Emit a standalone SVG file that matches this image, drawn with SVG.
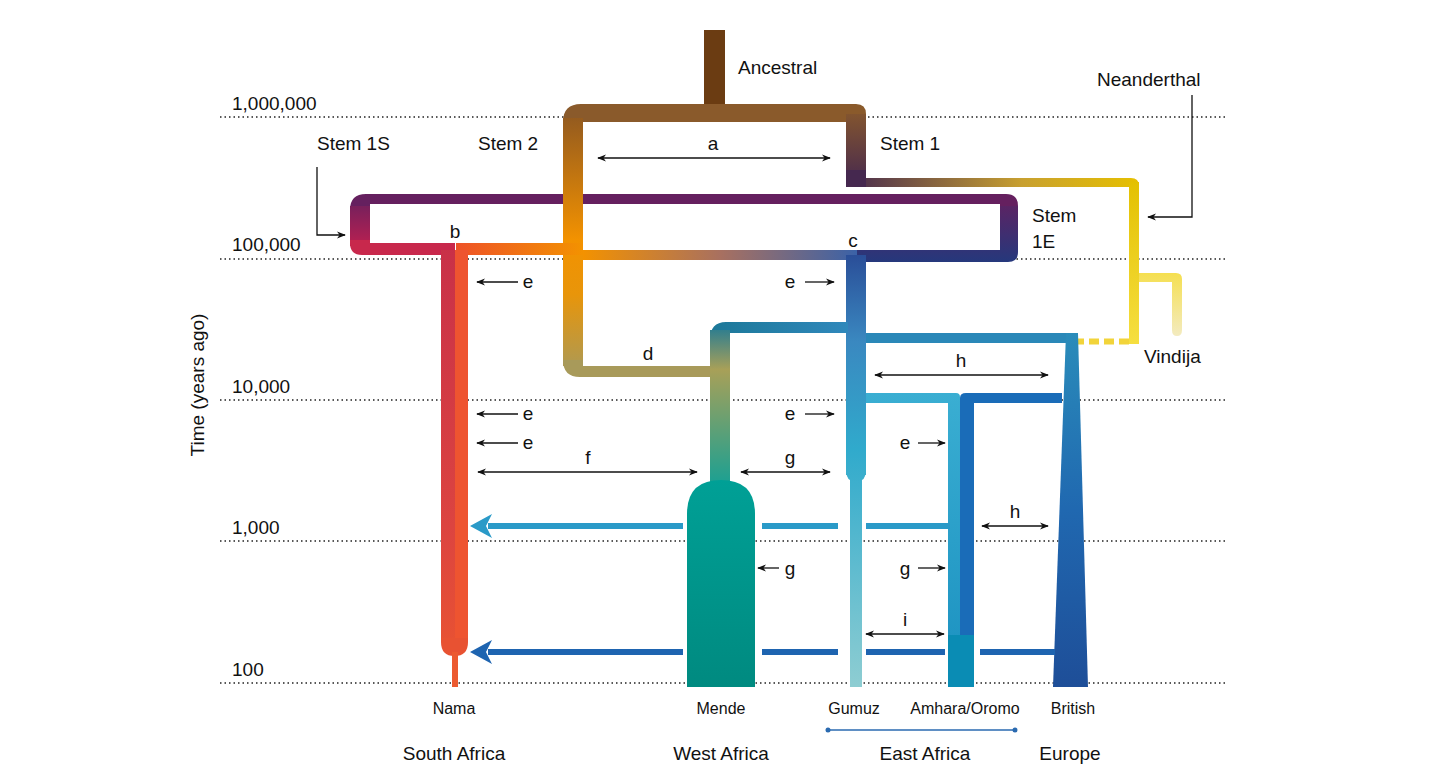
<svg xmlns="http://www.w3.org/2000/svg" width="1456" height="771" viewBox="0 0 1456 771">
<style>
text{font-family:"Liberation Sans",Arial,sans-serif;fill:#111}
.lbl{font-size:19px}
.sm{font-size:16px}
.grid{stroke:#222;stroke-width:1.5;stroke-dasharray:1.5 3}
.arr{stroke:#111;stroke-width:1.3;fill:none}
</style>
<defs>
<marker id="ah" viewBox="0 0 10 10" refX="9" refY="5" markerWidth="9" markerHeight="9" markerUnits="userSpaceOnUse" orient="auto-start-reverse"><path d="M0,1 L10,5 L0,9 L3,5 Z" fill="#111"/></marker>
<linearGradient id="gS2" x1="0" y1="104" x2="0" y2="376" gradientUnits="userSpaceOnUse"><stop offset="0" stop-color="#8a5522"/><stop offset="0.5" stop-color="#f39200"/><stop offset="0.7" stop-color="#e8950a"/><stop offset="1" stop-color="#a89a5a"/></linearGradient>
<linearGradient id="gS1" x1="0" y1="104" x2="0" y2="186" gradientUnits="userSpaceOnUse"><stop offset="0" stop-color="#8a5a2b"/><stop offset="1" stop-color="#45284f"/></linearGradient>
<linearGradient id="gNea" x1="846" y1="0" x2="1139" y2="0" gradientUnits="userSpaceOnUse"><stop offset="0" stop-color="#45284f"/><stop offset="0.6" stop-color="#c8a030"/><stop offset="1" stop-color="#e6c000"/></linearGradient>
<linearGradient id="gNeaV" x1="0" y1="178" x2="0" y2="344" gradientUnits="userSpaceOnUse"><stop offset="0" stop-color="#e3c000"/><stop offset="1" stop-color="#f6df40"/></linearGradient>
<linearGradient id="gVin" x1="0" y1="273" x2="0" y2="336" gradientUnits="userSpaceOnUse"><stop offset="0" stop-color="#f5df50"/><stop offset="1" stop-color="#f3ebc0"/></linearGradient>
<linearGradient id="gL" x1="0" y1="194" x2="0" y2="255" gradientUnits="userSpaceOnUse"><stop offset="0" stop-color="#65205f"/><stop offset="1" stop-color="#c8204e"/></linearGradient>
<linearGradient id="gR" x1="0" y1="194" x2="0" y2="262" gradientUnits="userSpaceOnUse"><stop offset="0" stop-color="#65205f"/><stop offset="1" stop-color="#25387c"/></linearGradient>
<linearGradient id="gE" x1="583" y1="0" x2="858" y2="0" gradientUnits="userSpaceOnUse"><stop offset="0" stop-color="#f39200"/><stop offset="0.5" stop-color="#a87060"/><stop offset="1" stop-color="#3a62a8"/></linearGradient>
<linearGradient id="gB" x1="455" y1="0" x2="583" y2="0" gradientUnits="userSpaceOnUse"><stop offset="0" stop-color="#ee5228"/><stop offset="1" stop-color="#f39200"/></linearGradient>
<linearGradient id="gNL" x1="0" y1="243" x2="0" y2="650" gradientUnits="userSpaceOnUse"><stop offset="0" stop-color="#c83048"/><stop offset="0.7" stop-color="#dc4440"/><stop offset="1" stop-color="#e85232"/></linearGradient>
<linearGradient id="gG" x1="0" y1="255" x2="0" y2="687" gradientUnits="userSpaceOnUse"><stop offset="0" stop-color="#2a4e98"/><stop offset="0.2" stop-color="#3a88c0"/><stop offset="0.45" stop-color="#30aacc"/><stop offset="1" stop-color="#8ecdd2"/></linearGradient>
<linearGradient id="gMH" x1="712" y1="0" x2="850" y2="0" gradientUnits="userSpaceOnUse"><stop offset="0" stop-color="#1c7898"/><stop offset="1" stop-color="#3088bc"/></linearGradient>
<linearGradient id="gMV" x1="0" y1="322" x2="0" y2="480" gradientUnits="userSpaceOnUse"><stop offset="0" stop-color="#1a7898"/><stop offset="0.3" stop-color="#a8a058"/><stop offset="1" stop-color="#20a090"/></linearGradient>
<linearGradient id="gMB" x1="0" y1="480" x2="0" y2="687" gradientUnits="userSpaceOnUse"><stop offset="0" stop-color="#00a096"/><stop offset="1" stop-color="#008a80"/></linearGradient>
<linearGradient id="gBr" x1="0" y1="333" x2="0" y2="687" gradientUnits="userSpaceOnUse"><stop offset="0" stop-color="#2a8cba"/><stop offset="0.5" stop-color="#2068b0"/><stop offset="1" stop-color="#1e4e98"/></linearGradient>
<linearGradient id="gA" x1="0" y1="393" x2="0" y2="687" gradientUnits="userSpaceOnUse"><stop offset="0" stop-color="#3aaed2"/><stop offset="1" stop-color="#1a90c0"/></linearGradient>
</defs>

<g id="grid">
<line class="grid" x1="220" y1="117" x2="1225" y2="117"/>
<line class="grid" x1="220" y1="259" x2="1225" y2="259"/>
<line class="grid" x1="220" y1="400" x2="1225" y2="400"/>
<line class="grid" x1="220" y1="541" x2="1225" y2="541"/>
<line class="grid" x1="220" y1="683" x2="1225" y2="683"/>
<text class="lbl" x="232" y="110">1,000,000</text>
<text class="lbl" x="232" y="251">100,000</text>
<text class="lbl" x="232" y="393">10,000</text>
<text class="lbl" x="232" y="534">1,000</text>
<text class="lbl" x="232" y="676">100</text>
<text class="lbl" transform="translate(204,385) rotate(-90)" text-anchor="middle">Time (years ago)</text>
</g>

<g id="lineages">
<rect x="704" y="30" width="21" height="82" fill="#6b3c12"/>
<path d="M563,122 Q563,104 581,104 L856,104 Q866,104 866,114 L866,186 L846,186 L846,122 L583,122 Z" fill="#8a5a2b"/>
<rect x="846" y="114" width="20" height="72" fill="url(#gS1)"/>
<path d="M846,178 L1131,178 Q1139,178 1139,186 L1139,187 L846,187 Z" fill="url(#gNea)"/>
<path d="M846,170 L846,180 Q846,187 856,187 L866,187 L866,170Z" fill="#45284f"/>
<rect x="1129" y="182" width="10" height="162" fill="url(#gNeaV)"/>
<path d="M1139,273 L1176,273 Q1182,273 1182,279 L1182,330 Q1182,336 1177,336 Q1172,336 1172,330 L1172,282 L1139,282 Z" fill="url(#gVin)"/>
<line x1="1129" y1="341.5" x2="1075" y2="341.5" stroke="#f2d43a" stroke-width="6" stroke-dasharray="10 5"/>
<path d="M350,210 Q350,194 366,194 L1006,194 Q1018,194 1018,206 L1000,206 L1000,204 L370,204 L370,206 L350,206 Z" fill="#65205f"/>
<rect x="350" y="206" width="20" height="40" fill="url(#gL)"/>
<path d="M350,240 L350,243 Q350,255 362,255 L455,255 L455,243 L370,243 L370,240Z" fill="#c8284c"/>
<path d="M1000,206 L1018,206 L1018,252 Q1018,262 1008,262 L857,262 L857,250 L1000,250 Z" fill="url(#gR)"/>
<rect x="563" y="118" width="20" height="248" fill="url(#gS2)"/>
<path d="M563,360 Q563,377 580,377 L720,377 L720,366 L583,366 L583,360 Z" fill="#a89a5a"/>
<rect x="456" y="243" width="127" height="12" fill="url(#gB)"/>
<path d="M441,250 L455,250 L455,640 L441,640 Z" fill="url(#gNL)"/>
<path d="M455,250 L468,250 L468,640 L455,640 Z" fill="#ee5430"/>
<path d="M441,638 L441,642 Q441,656 454.5,656 Q468,656 468,642 L468,638 Z" fill="#e85232"/>
<rect x="452" y="652" width="6" height="35" fill="#ec5a30"/>
<rect x="583" y="250" width="274" height="10" fill="url(#gE)"/>
<rect x="846" y="255" width="20" height="220" fill="url(#gG)"/>
<path d="M846,468 Q846,478 850,480 L850,687 L862,687 L862,480 Q866,478 866,468 Z" fill="url(#gG)"/>
<path d="M710,340 Q710,322 726,322 L848,322 L848,333 L730,333 L730,340 Z" fill="url(#gMH)"/>
<rect x="710" y="330" width="20" height="155" fill="url(#gMV)"/>
<path d="M687,687 L687,514 Q687,480 721,480 Q755,480 755,514 L755,687 Z" fill="url(#gMB)"/>
<rect x="866" y="333" width="210" height="10" fill="#2a88b8"/>
<path d="M1066,333 L1078,333 L1088,687 L1053,687 Z" fill="url(#gBr)"/>
<path d="M866,393 L956,393 Q960,393 960,397 L960,687 L948,687 L948,403 L866,403 Z" fill="url(#gA)"/>
<path d="M960,687 L960,398 Q960,393 966,393 L1062,393 L1062,403 L974,403 L974,687 Z" fill="#1a6cb8"/>
<rect x="948" y="635" width="26" height="52" fill="#0a8cb4"/>
</g>

<g id="connectors">
<path d="M950,526 L866,526 M838,526 L762,526 M683,526 L488,526" stroke="#2a9ac8" stroke-width="6" fill="none"/>
<path d="M470,526 L492,514 L486,526 L492,538 Z" fill="#2a9ac8"/>
<path d="M1055,652 L980,652 M945,652 L866,652 M838,652 L762,652 M683,652 L488,652" stroke="#1e64b0" stroke-width="6" fill="none"/>
<path d="M470,652 L492,640 L486,652 L492,664 Z" fill="#1e64b0"/>
<line class="arr" x1="598" y1="158" x2="830" y2="158" marker-start="url(#ah)" marker-end="url(#ah)"/>
<line class="arr" x1="518" y1="282" x2="477" y2="282" marker-end="url(#ah)"/>
<line class="arr" x1="518" y1="414" x2="477" y2="414" marker-end="url(#ah)"/>
<line class="arr" x1="518" y1="443" x2="477" y2="443" marker-end="url(#ah)"/>
<line class="arr" x1="478" y1="472" x2="697" y2="472" marker-start="url(#ah)" marker-end="url(#ah)"/>
<line class="arr" x1="741" y1="472" x2="830" y2="472" marker-start="url(#ah)" marker-end="url(#ah)"/>
<line class="arr" x1="805" y1="282" x2="834" y2="282" marker-end="url(#ah)"/>
<line class="arr" x1="805" y1="414" x2="834" y2="414" marker-end="url(#ah)"/>
<line class="arr" x1="918" y1="443" x2="945" y2="443" marker-end="url(#ah)"/>
<line class="arr" x1="875" y1="375" x2="1048" y2="375" marker-start="url(#ah)" marker-end="url(#ah)"/>
<line class="arr" x1="982" y1="526" x2="1048" y2="526" marker-start="url(#ah)" marker-end="url(#ah)"/>
<line class="arr" x1="779" y1="568" x2="758" y2="568" marker-end="url(#ah)"/>
<line class="arr" x1="918" y1="568" x2="945" y2="568" marker-end="url(#ah)"/>
<line class="arr" x1="866" y1="634" x2="944" y2="634" marker-start="url(#ah)" marker-end="url(#ah)"/>
<path class="arr" d="M317,167 L317,235 L345,235" marker-end="url(#ah)"/>
<path class="arr" d="M1192,95 L1192,217 L1148,217" marker-end="url(#ah)"/>
<line x1="828" y1="730" x2="1015" y2="730" stroke="#2a6ab0" stroke-width="1.3"/>
<circle cx="828" cy="730" r="2.5" fill="#2a6ab0"/>
<circle cx="1015" cy="730" r="2.5" fill="#2a6ab0"/>
</g>

<g id="labels">
<text class="lbl" x="738" y="74">Ancestral</text>
<text class="lbl" x="1097" y="86">Neanderthal</text>
<text class="lbl" x="317" y="150">Stem 1S</text>
<text class="lbl" x="478" y="150">Stem 2</text>
<text class="lbl" x="880" y="150">Stem 1</text>
<text class="lbl" x="1032" y="222">Stem</text>
<text class="lbl" x="1032" y="248">1E</text>
<text class="lbl" x="1144" y="363">Vindija</text>
<text class="lbl" x="713" y="150" text-anchor="middle">a</text>
<text class="lbl" x="455" y="238" text-anchor="middle">b</text>
<text class="lbl" x="853" y="247" text-anchor="middle">c</text>
<text class="lbl" x="648" y="360" text-anchor="middle">d</text>
<text class="lbl" x="528" y="288" text-anchor="middle">e</text>
<text class="lbl" x="528" y="420" text-anchor="middle">e</text>
<text class="lbl" x="528" y="449" text-anchor="middle">e</text>
<text class="lbl" x="588" y="464" text-anchor="middle">f</text>
<text class="lbl" x="790" y="288" text-anchor="middle">e</text>
<text class="lbl" x="790" y="420" text-anchor="middle">e</text>
<text class="lbl" x="790" y="464" text-anchor="middle">g</text>
<text class="lbl" x="905" y="449" text-anchor="middle">e</text>
<text class="lbl" x="961" y="367" text-anchor="middle">h</text>
<text class="lbl" x="1015" y="518" text-anchor="middle">h</text>
<text class="lbl" x="790" y="575" text-anchor="middle">g</text>
<text class="lbl" x="905" y="575" text-anchor="middle">g</text>
<text class="lbl" x="905" y="626" text-anchor="middle">i</text>
<text class="sm" x="454" y="714" text-anchor="middle">Nama</text>
<text class="sm" x="721" y="714" text-anchor="middle">Mende</text>
<text class="sm" x="854" y="714" text-anchor="middle">Gumuz</text>
<text class="sm" x="965" y="714" text-anchor="middle">Amhara/Oromo</text>
<text class="sm" x="1073" y="714" text-anchor="middle">British</text>
<text class="lbl" x="454" y="760" text-anchor="middle">South Africa</text>
<text class="lbl" x="721" y="760" text-anchor="middle">West Africa</text>
<text class="lbl" x="925" y="760" text-anchor="middle">East Africa</text>
<text class="lbl" x="1070" y="760" text-anchor="middle">Europe</text>
</g>
</svg>
